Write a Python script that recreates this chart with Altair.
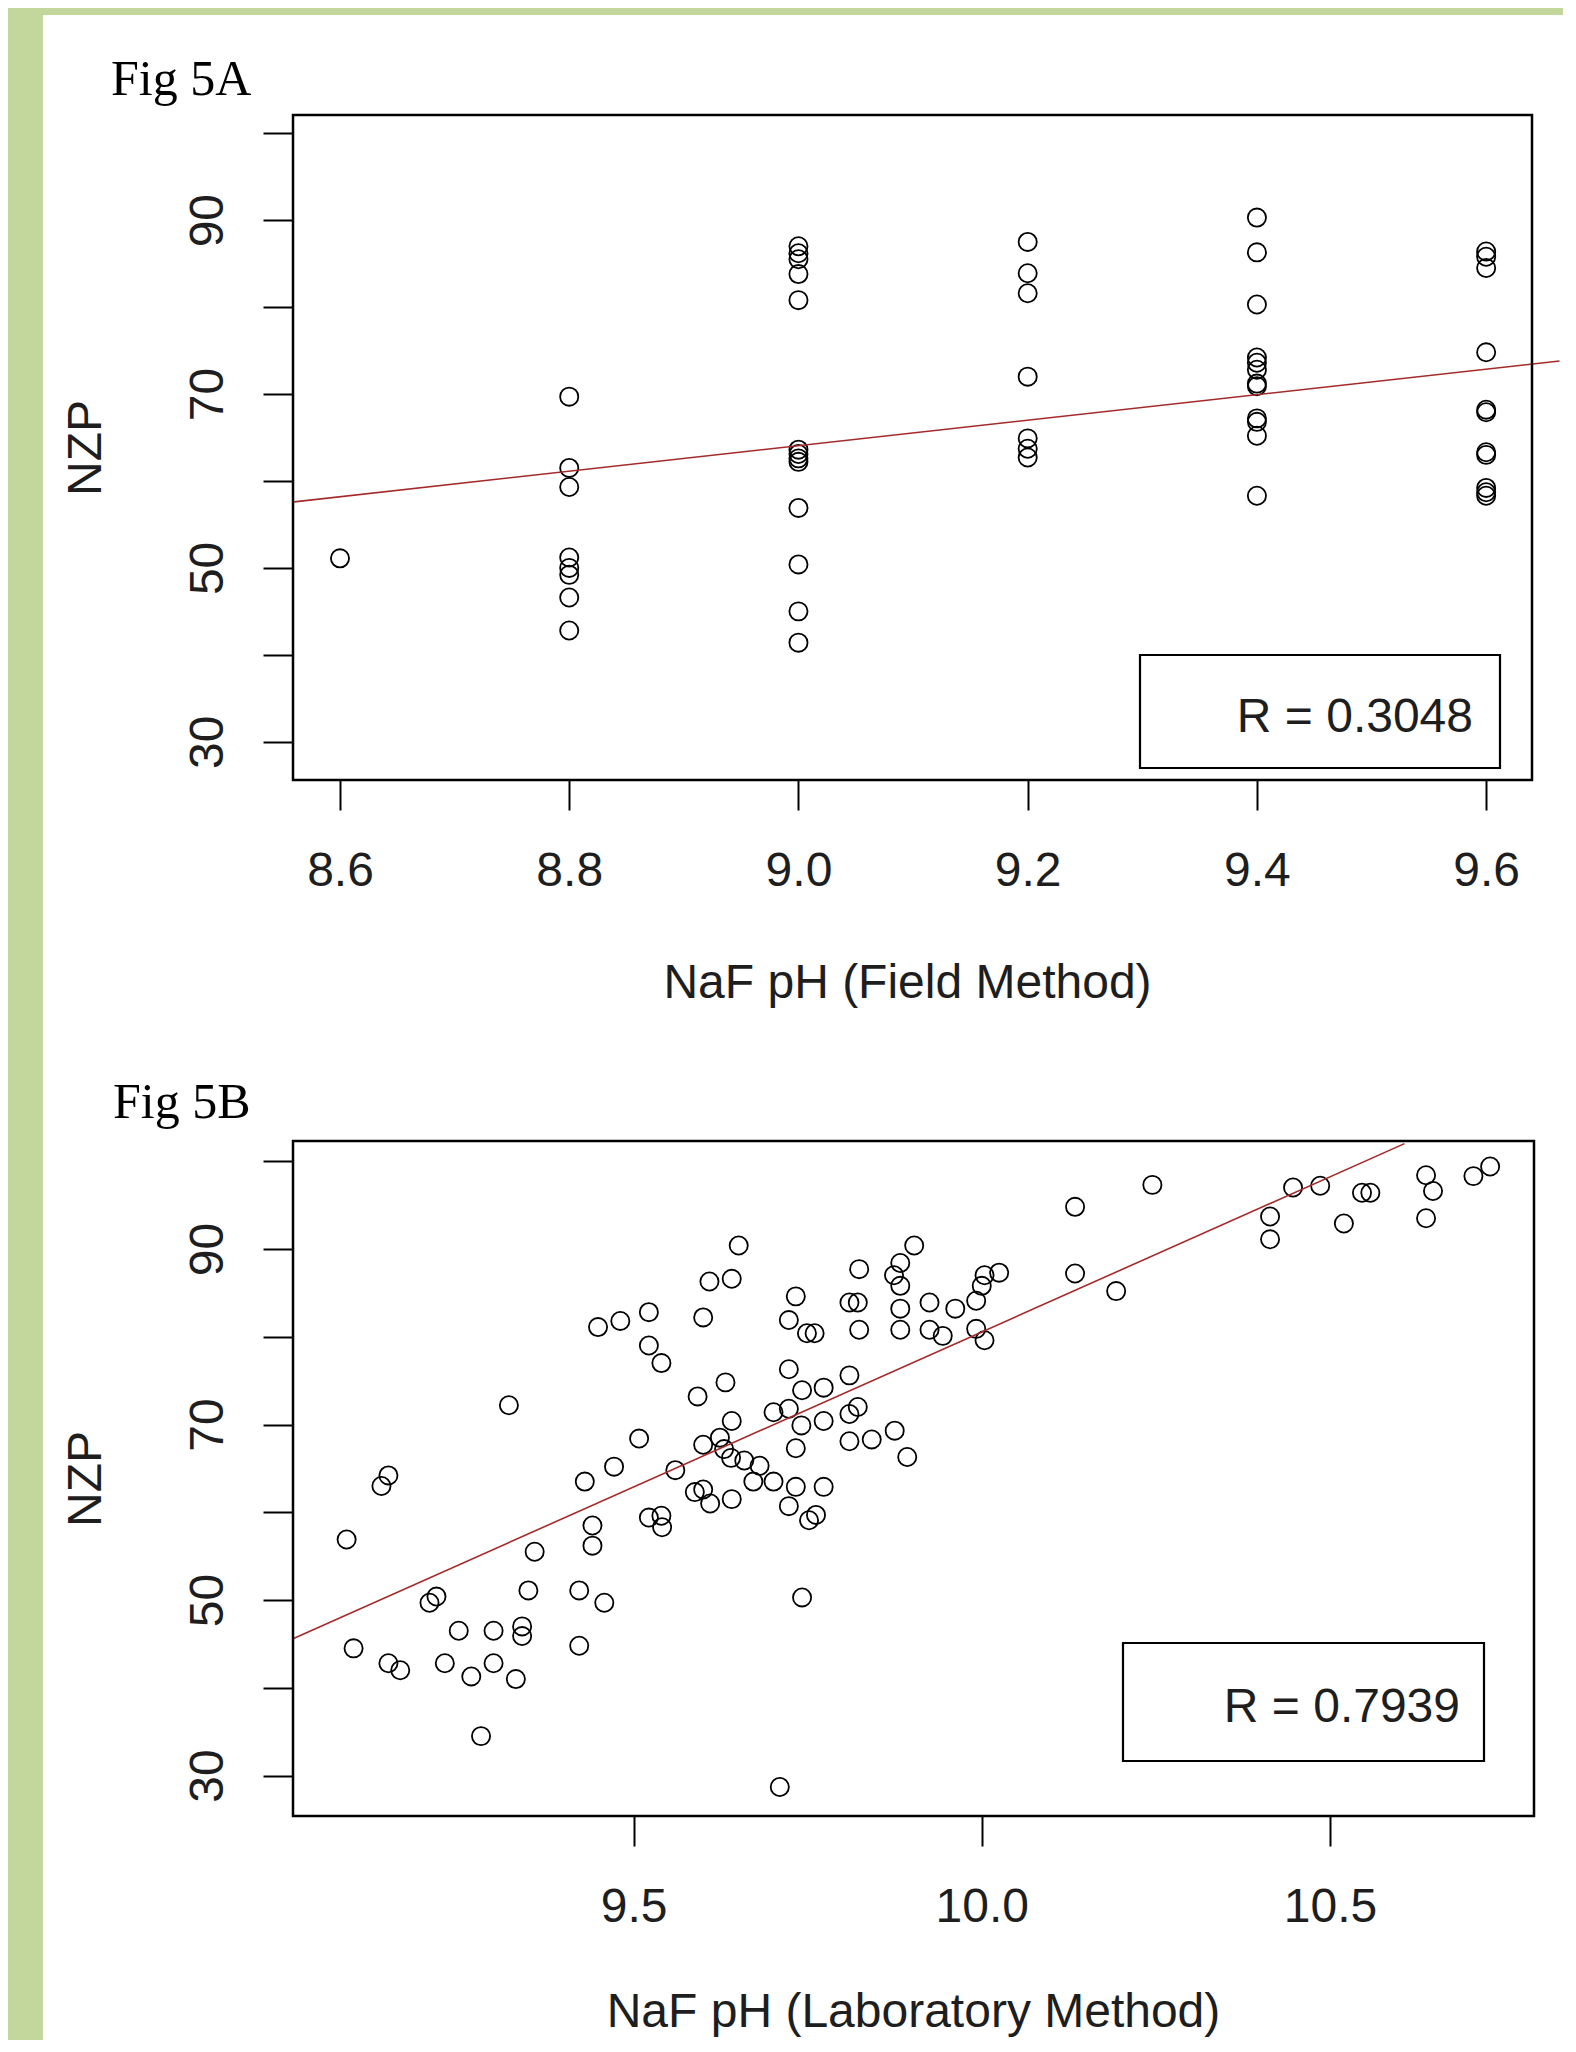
import altair as alt
import pandas as pd

GREEN = "#c3d69b"
SANS = "Liberation Sans"
SERIF = "Liberation Serif"
INK = "#1e1e1e"
FIT = "#a52a2a"

# ---------------- Fig 5A : NaF pH (field method) ----------------
a_ph_levels = [8.6, 8.8, 9.0, 9.2, 9.4, 9.6]
a_nzp_86 = [51.1]
a_nzp_88 = [69.7, 61.5, 59.3, 51.2, 50.0, 49.2, 46.6, 42.8]
a_nzp_90 = [87.0, 86.2, 85.5, 83.8, 80.8, 63.6, 63.1, 62.6, 62.2, 56.9, 50.4, 45.0, 41.4]
a_nzp_92 = [87.5, 83.9, 81.6, 72.0, 64.9, 63.7, 62.7]
a_nzp_94 = [90.3, 86.3, 80.3, 74.2, 73.6, 72.8, 71.2, 70.9, 67.2, 66.8, 65.2, 58.3]
a_nzp_96 = [86.4, 85.8, 84.5, 74.8, 68.2, 67.9, 63.3, 63.0, 59.2, 58.7, 58.3]
a_fit_x = [8.56, 9.664]
a_fit_y = [57.6, 73.8]
a_x_domain = [8.559, 9.640]
a_y_domain = [25.6, 102.1]
a_x_ticks = [8.6, 8.8, 9.0, 9.2, 9.4, 9.6]
a_r_text = "R = 0.3048"
a_title = "NaF pH (Field Method)"
a_fig = "Fig 5A"

# ---------------- Fig 5B : NaF pH (laboratory method) ----------------
b_ph = [9.651, 9.609, 9.641, 9.824, 9.903, 9.883, 9.874, 9.883, 9.733, 9.810,
        9.822, 9.925, 9.962, 9.883, 9.522, 9.600, 9.481, 9.449, 9.723, 9.749,
        9.760, 9.824, 9.883, 9.925, 9.944, 9.522, 9.540, 9.723, 9.810, 9.632,
        9.742, 9.773, 9.592, 9.321, 9.701, 9.723, 9.810, 9.822, 9.641, 9.741,
        9.773, 9.508, 9.600, 9.624, 9.630, 9.640, 9.733, 9.810, 9.842, 9.875,
        9.893, 9.148, 9.138, 9.472, 9.560, 9.659, 9.681, 9.430, 9.672, 9.701,
        9.733, 9.773, 9.588, 9.600, 9.610, 9.641, 9.723, 9.522, 9.540, 9.541,
        9.752, 9.762, 9.441, 9.088, 9.441, 9.358, 9.207, 9.217, 9.349, 9.422,
        9.458, 9.742, 9.249, 9.299, 9.340, 9.340, 9.422, 9.098, 9.148, 9.165,
        9.229, 9.299, 9.267, 9.331, 9.281, 9.710,
        9.992, 10.004, 10.025, 10.000, 9.992, 10.004, 10.134, 10.134, 10.245, 10.193,
        10.414, 10.414, 10.447, 10.486, 10.520, 10.546, 10.558, 10.638, 10.648, 10.638,
        10.706, 10.730]
b_nzp = [90.4, 86.3, 86.6, 87.7, 90.4, 88.4, 87.0, 85.8, 84.6, 83.9,
         83.9, 83.9, 83.2, 83.2, 82.8, 82.2, 81.8, 81.1, 81.9, 80.4,
         80.4, 80.8, 80.8, 80.8, 80.1, 79.0, 77.0, 76.3, 75.6, 74.8,
         73.9, 74.2, 73.2, 72.2, 71.4, 71.8, 71.2, 72.0, 70.4, 69.9,
         70.4, 68.4, 67.7, 68.5, 67.2, 66.2, 67.3, 68.1, 68.3, 69.3,
         66.3, 64.2, 63.0, 65.2, 64.8, 65.9, 65.3, 63.5, 63.5, 63.5,
         62.9, 62.9, 62.3, 62.6, 61.0, 61.5, 60.7, 59.4, 59.6, 58.3,
         59.1, 59.7, 58.5, 56.9, 56.2, 55.5, 49.7, 50.4, 51.1, 51.1,
         49.7, 50.3, 46.5, 46.5, 47.0, 45.9, 44.8, 44.5, 42.8, 42.0,
         42.8, 42.8, 41.3, 41.0, 34.5, 28.7,
         84.1, 87.0, 87.3, 85.8, 80.9, 79.6, 87.2, 94.8, 97.3, 85.2,
         93.7, 91.1, 97.0, 97.2, 92.9, 96.4, 96.4, 98.4, 96.6, 93.5,
         98.3, 99.4]
b_fit_x = [9.011, 10.607]
b_fit_y = [45.6, 102.0]
b_x_domain = [9.011, 10.793]
b_y_domain = [25.4, 102.3]
b_x_ticks = [9.5, 10.0, 10.5]
b_r_text = "R = 0.7939"
b_title = "NaF pH (Laboratory Method)"
b_fig = "Fig 5B"

y_ticks = [30, 40, 50, 60, 70, 80, 90, 100]
y_title = "NZP"

# ---------------- tables ----------------
a_rows = []
for ph, vals in zip(a_ph_levels, [a_nzp_86, a_nzp_88, a_nzp_90, a_nzp_92, a_nzp_94, a_nzp_96]):
    for v in vals:
        a_rows.append({"ph": ph, "nzp": v})
a_df = pd.DataFrame(a_rows)
b_df = pd.DataFrame({"ph": b_ph, "nzp": b_nzp})
a_fit = pd.DataFrame({"ph": a_fit_x, "nzp": a_fit_y})
b_fit = pd.DataFrame({"ph": b_fit_x, "nzp": b_fit_y})
one = pd.DataFrame({"k": [0]})


def panel(df, fit, xdom, ydom, xticks, W, H, xtitle, xtitle_x, xtitle_y,
          fig, fig_xy, rtext, box, rtext_xy, sheet):
    xs = alt.Scale(domain=xdom, nice=False, zero=False)
    ys = alt.Scale(domain=ydom, nice=False, zero=False)
    xaxis = alt.Axis(values=xticks, format=".1f", title=xtitle, labelFlush=False,
                     labelOverlap=False, labelBaseline="alphabetic", labelPadding=75,
                     titleX=xtitle_x, titleY=xtitle_y, titleAlign="center",
                     titleBaseline="alphabetic", zindex=1)
    yaxis = alt.Axis(values=y_ticks, title=y_title, labelFlush=False, labelOverlap=False,
                     labelExpr="datum.value % 20 == 10 ? datum.label : ''",
                     labelAngle=270, labelAlign="center", labelBaseline="alphabetic",
                     labelPadding=41, titleAngle=270, titleX=-193, titleY=H / 2,
                     titleAlign="center", titleBaseline="alphabetic", zindex=1)
    enc = dict(x=alt.X("ph:Q", scale=xs, axis=xaxis), y=alt.Y("nzp:Q", scale=ys, axis=yaxis))

    sheet_l = alt.Chart(one).mark_rect(fill="white").encode(
        x=alt.value(sheet[0]), x2=alt.value(sheet[1]),
        y=alt.value(sheet[2]), y2=alt.value(sheet[3]))
    pts = alt.Chart(df).mark_point(shape="circle", filled=False, color="black",
                                   opacity=1, strokeWidth=1.8, size=330).encode(**enc)
    line = alt.Chart(fit).mark_line(color=FIT, strokeWidth=1.6).encode(**enc)
    frame = alt.Chart(one).mark_rect(fillOpacity=0, stroke="black", strokeWidth=2.5).encode(
        x=alt.value(0), x2=alt.value(W), y=alt.value(0), y2=alt.value(H))
    lbox = alt.Chart(one).mark_rect(fill="white", stroke="black", strokeWidth=2.2).encode(
        x=alt.value(box[0]), x2=alt.value(box[1]), y=alt.value(box[2]), y2=alt.value(box[3]))
    rlab = alt.Chart(one).mark_text(align="right", baseline="alphabetic", font=SANS,
                                    fontSize=48, color=INK).encode(
        x=alt.value(rtext_xy[0]), y=alt.value(rtext_xy[1]), text=alt.value(rtext))
    flab = alt.Chart(one).mark_text(align="left", baseline="alphabetic", font=SERIF,
                                    fontSize=50, color="black").encode(
        x=alt.value(fig_xy[0]), y=alt.value(fig_xy[1]), text=alt.value(fig))
    return alt.layer(sheet_l, pts, line, frame, lbox, rlab, flab).properties(width=W, height=H)


A = panel(a_df, a_fit, a_x_domain, a_y_domain, a_x_ticks, 1239, 665, a_title, 614, 217,
          a_fig, (-182, -20), a_r_text, (847, 1207, 540, 653), (1180, 617),
          (-250, 1270, -100, 915))
B = panel(b_df, b_fit, b_x_domain, b_y_domain, b_x_ticks, 1241, 675, b_title, 620, 210,
          b_fig, (-180, -23), b_r_text, (830, 1191, 502, 620), (1167, 581),
          (-250, 1270, -111, 899))

chart = alt.vconcat(A, B, spacing=361, bounds="flush").properties(
    background=GREEN,
    padding={"left": 35, "top": 7, "right": 0, "bottom": 0},
).configure_view(stroke=None).configure_axis(
    domain=False, grid=False, tickColor="black", tickWidth=2, tickSize=30,
    labelFont=SANS, labelFontSize=48, labelColor=INK,
    titleFont=SANS, titleFontSize=48, titleFontWeight="normal", titleColor=INK,
)

chart.save("out.html", embed_options={"renderer": "svg", "actions": False})
